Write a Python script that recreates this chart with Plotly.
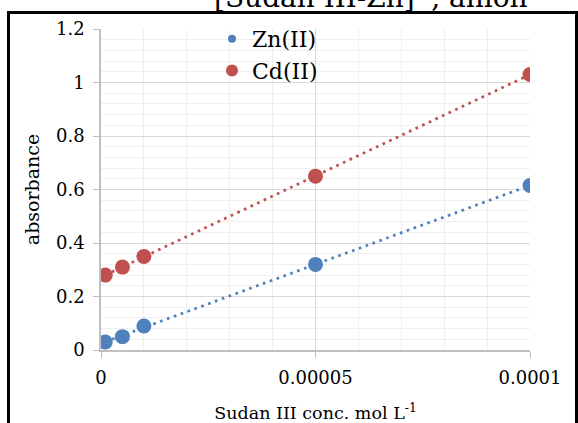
import numpy as np
import plotly.graph_objects as go

# ---- data ----
conc = [1e-6, 5e-6, 1e-5, 5e-5, 1e-4]
zn_abs = [0.03, 0.05, 0.09, 0.32, 0.615]
cd_abs = [0.28, 0.31, 0.35, 0.65, 1.03]
series_names = ["Zn(II)", "Cd(II)"]
x_tickvals = [0, 0.00005, 0.0001]
x_ticktext = ["0", "0.00005", "0.0001"]
title_text = "[Sudan III-Zn]<sup>+</sup>, anion"
x_title = "Sudan III conc. mol L<sup>-1</sup>"
y_title = "absorbance"

BLUE = "#4F81BD"
RED = "#C0504D"
FONT = "DejaVu Serif"

W, H = 578, 423
ML, MR, MT, MB = 101, 48, 29, 73
PW = W - ML - MR
PH = H - MT - MB

def px_x(p):
    return (p - ML) / PW

def px_y(p):
    return (H - MB - p) / PH

fig = go.Figure()

for ys, col in [(zn_abs, BLUE), (cd_abs, RED)]:
    xa = np.array(conc)
    k, b = np.polyfit(xa, np.array(ys), 1)
    xl = np.array([xa.min(), xa.max()])
    fig.add_trace(go.Scatter(x=xl, y=k * xl + b, mode="lines",
                             line=dict(color=col, width=2.7, dash="2.7px,4.6px"),
                             showlegend=False, hoverinfo="skip"))

for ys, col in [(zn_abs, BLUE), (cd_abs, RED)]:
    fig.add_trace(go.Scatter(x=conc, y=ys, mode="markers",
                             marker=dict(color=col, size=15),
                             showlegend=False))

# legend entries
for name, col, sz, grp in [(series_names[0], BLUE, 8, "a"), (series_names[1], RED, 12, "b")]:
    fig.add_trace(go.Scatter(x=[None], y=[None], mode="markers", name=name,
                             legendgroup=grp,
                             marker=dict(color=col, size=sz)))

fig.update_layout(
    width=W, height=H,
    margin=dict(l=ML, r=MR, t=MT, b=MB, pad=0, autoexpand=False),
    paper_bgcolor="white", plot_bgcolor="white",
    font=dict(family=FONT, color="black", size=18),
    showlegend=True,
    legend=dict(x=px_x(212), y=px_y(18), xanchor="left", yanchor="top",
                bgcolor="rgba(0,0,0,0)", font=dict(size=22, family=FONT),
                itemsizing="trace", tracegroupgap=0),
    xaxis=dict(range=[0, 0.0001], tickmode="array", tickvals=x_tickvals, ticktext=x_ticktext,
               showgrid=True, gridcolor="#D9D9D9", gridwidth=1.3,
               minor=dict(dtick=0.00001, tick0=0, showgrid=True, gridcolor="#EFEFEF", gridwidth=1.3),
               showline=True, linecolor="#BFBFBF", linewidth=1.5,
               ticks="outside", ticklen=6, tickcolor="#BFBFBF", tickwidth=1.3,
               ticklabelstandoff=5, zeroline=False, automargin=False,
               title=dict(text=x_title, font=dict(size=17.5), standoff=23)),
    yaxis=dict(range=[0, 1.2], dtick=0.2, tick0=0,
               showgrid=True, gridcolor="#D9D9D9", gridwidth=1.3,
               minor=dict(dtick=0.04, tick0=0, showgrid=True, gridcolor="#EFEFEF", gridwidth=1.3),
               showline=True, linecolor="#BFBFBF", linewidth=1.5,
               ticks="outside", ticklen=6, tickcolor="#BFBFBF", tickwidth=1.3,
               ticklabelstandoff=5, zeroline=False, automargin=False,
               title=dict(text=y_title, font=dict(size=19), standoff=11)),
    shapes=[dict(type="rect", xref="paper", yref="paper",
                 x0=px_x(8.5), x1=px_x(576.5), y0=px_y(440), y1=px_y(12.5),
                 line=dict(color="black", width=3), fillcolor="rgba(0,0,0,0)", layer="above")],
    annotations=[dict(text=title_text, xref="paper", yref="paper",
                      x=px_x(371), y=px_y(16), xanchor="center", yanchor="bottom",
                      showarrow=False, font=dict(size=28, family=FONT, color="black"))],
)

fig.write_html("out.html")
